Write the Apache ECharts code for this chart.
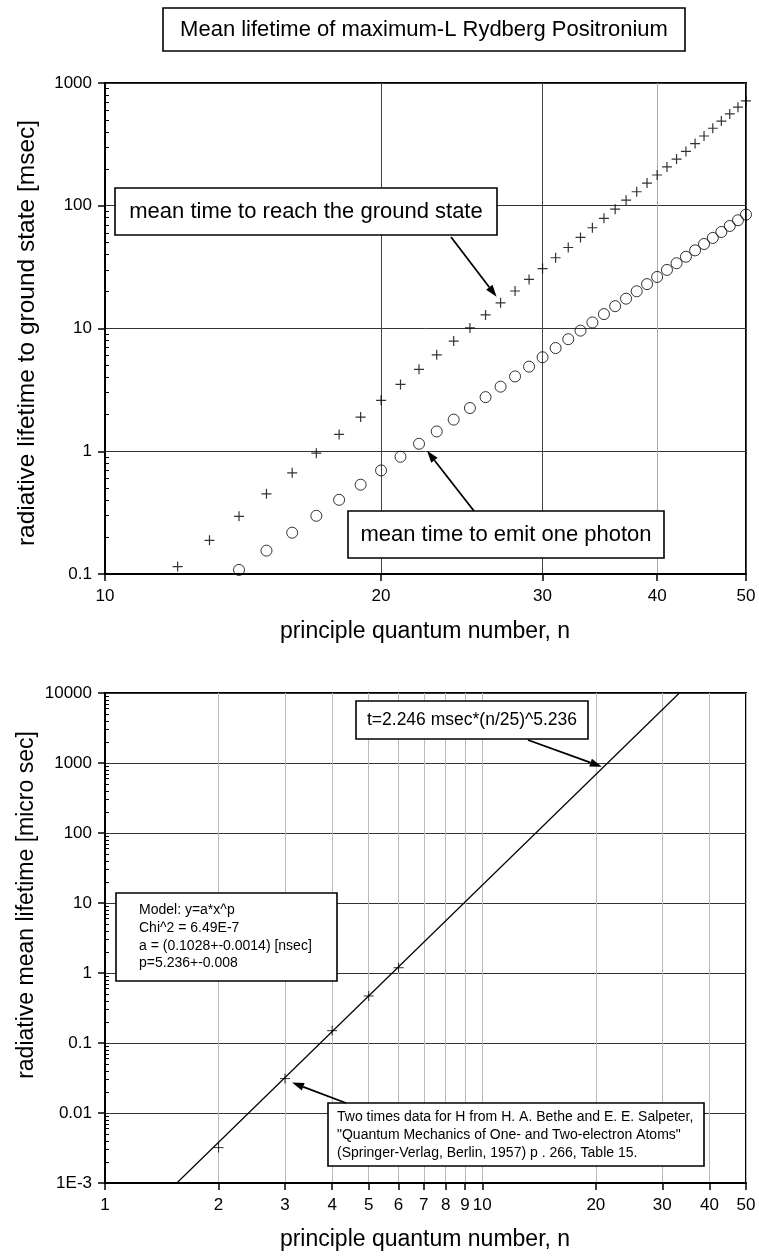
<!DOCTYPE html>
<html>
<head>
<meta charset="utf-8">
<script src="https://cdn.jsdelivr.net/npm/echarts@6/dist/echarts.min.js"></script>
<style>
html, body { margin: 0; padding: 0; background: #fff; }
#chart { width: 759px; height: 1257px; }
</style>
</head>
<body>
<div id="chart"></div>
<script>
// top chart: maximum-L Rydberg positronium, lifetimes in msec
var nCross = [12,13,14,15,16,17,18,19,20,21,22,23,24,25,26,27,28,29,30,31,32,33,34,35,36,37,38,39,40,41,42,43,44,45,46,47,48,49,50];
var tCross = [0.115,0.188,0.295,0.45,0.667,0.965,1.37,1.9,2.6,3.5,4.65,6.1,7.9,10.1,12.9,16.2,20.2,25.1,30.8,37.7,45.7,55.2,66.2,79,93.8,111,130,153,178,207,240,277,321,370,428,490,560,635,715];
var nCircle = [14,15,16,17,18,19,20,21,22,23,24,25,26,27,28,29,30,31,32,33,34,35,36,37,38,39,40,41,42,43,44,45,46,47,48,49,50];
var tCircle = [0.108,0.155,0.217,0.298,0.402,0.534,0.698,0.902,1.15,1.45,1.81,2.25,2.76,3.36,4.07,4.89,5.83,6.93,8.18,9.61,11.2,13.1,15.2,17.5,20.1,23,26.3,30,34,38.4,43.3,48.8,54.7,61.2,68.4,76.2,84.7];

// bottom chart: hydrogen data (x2) and fitted power law, micro sec
var nBethe = [2,3,4,5,6];
var tBethe = [0.0032,0.031,0.15,0.47,1.19];
var nFit = [1.55,33.3];
var tFit = [0.001,10000];

var xTicksTop = [10,20,30,40,50];
var yTicksTop = [0.1,1,10,100,1000];
var yLabelsTop = ['0.1','1','10','100','1000'];
var xTicksBot = [1,2,3,4,5,6,7,8,9,10,20,30,40,50];
var yTicksBot = [0.001,0.01,0.1,1,10,100,1000,10000];
var yLabelsBot = ['1E-3','0.01','0.1','1','10','100','1000','10000'];

var FONT = '"Liberation Sans", Arial, sans-serif';
var CROSS = 'path://M0,5L10,5M5,0L5,10';

function zip(a, b) {
	var out = [];
	for (var i = 0; i < a.length; i++) out.push([a[i], b[i]]);
	return out;
}

function minorTicks(lo, hi) {
	var out = [];
	for (var d = lo; d < hi * 0.99; d *= 10) {
		for (var k = 2; k <= 9; k++) out.push(+(d * k).toPrecision(3));
	}
	return out;
}

function pickLabel(ticks, labels) {
	return function (v) {
		for (var i = 0; i < ticks.length; i++) {
			if (Math.abs(Math.log10(v) - Math.log10(ticks[i])) < 1e-6) return labels[i];
		}
		return '';
	};
}

function xAxisOf(grid, min, max, ticks, gridColor) {
	return {
		gridIndex: grid, type: 'log', logBase: 10, min: min, max: max,
		axisLine: { show: true, lineStyle: { color: '#000', width: 2 } },
		axisTick: { show: true, customValues: ticks, length: 7, lineStyle: { color: '#000', width: 1.5 } },
		axisLabel: { customValues: ticks, margin: 14, fontSize: 17, color: '#000', fontFamily: FONT, hideOverlap: false },
		splitLine: { show: true, lineStyle: { color: gridColor, width: 1 } },
		minorTick: { show: false }, minorSplitLine: { show: false }
	};
}

function yAxisOf(grid, min, max, ticks, labels) {
	return {
		gridIndex: grid, type: 'log', logBase: 10, min: min, max: max, position: 'left', offset: 0,
		axisLine: { show: true, lineStyle: { color: '#000', width: 2 } },
		axisTick: { show: true, customValues: ticks, length: 7, lineStyle: { color: '#000', width: 1.5 } },
		axisLabel: { customValues: ticks, formatter: pickLabel(ticks, labels), margin: 13, fontSize: 17, color: '#000', fontFamily: FONT, hideOverlap: false },
		splitLine: { show: true, lineStyle: { color: '#333', width: 1 } }
	};
}

function yMinorOf(grid, min, max) {
	return {
		gridIndex: grid, type: 'log', logBase: 10, min: min, max: max, position: 'left', offset: 0,
		axisLine: { show: false },
		axisTick: { show: true, inside: true, customValues: minorTicks(min, max), length: 4, lineStyle: { color: '#000', width: 1 } },
		axisLabel: { show: false },
		splitLine: { show: false }
	};
}

var dom = document.getElementById('chart');
var myChart = echarts.init(dom, null, { renderer: 'canvas' });

var option = {
	animation: false,
	backgroundColor: '#fff',
	grid: [
		{ left: 105, top: 83, width: 641, height: 491, show: true, borderColor: '#000', borderWidth: 2, containLabel: false, outerBoundsMode: 'none' },
		{ left: 105, top: 693, width: 641, height: 490, show: true, borderColor: '#000', borderWidth: 2, containLabel: false, outerBoundsMode: 'none' }
	],
	xAxis: [
		xAxisOf(0, 10, 50, xTicksTop, ['#444', '#444', '#444', '#aaa', '#444']),
		xAxisOf(1, 1, 50, xTicksBot, '#bbb')
	],
	yAxis: [
		yAxisOf(0, 0.1, 1000, yTicksTop, yLabelsTop),
		yMinorOf(0, 0.1, 1000),
		yAxisOf(1, 0.001, 10000, yTicksBot, yLabelsBot),
		yMinorOf(1, 0.001, 10000)
	],
	series: [
		{
			name: 'mean time to reach the ground state', type: 'scatter',
			xAxisIndex: 0, yAxisIndex: 0,
			symbol: CROSS, symbolSize: 10,
			itemStyle: { color: 'transparent', borderColor: '#000', borderWidth: 1.2 },
			data: zip(nCross, tCross)
		},
		{
			name: 'mean time to emit one photon', type: 'scatter',
			xAxisIndex: 0, yAxisIndex: 0,
			symbol: 'circle', symbolSize: 11,
			itemStyle: { color: 'transparent', borderColor: '#000', borderWidth: 1 },
			data: zip(nCircle, tCircle)
		},
		{
			name: 'fit', type: 'line',
			xAxisIndex: 1, yAxisIndex: 2,
			showSymbol: false, symbol: 'none',
			lineStyle: { color: '#000', width: 1.2 },
			data: zip(nFit, tFit)
		},
		{
			name: 'Bethe-Salpeter x2', type: 'scatter',
			xAxisIndex: 1, yAxisIndex: 2,
			symbol: CROSS, symbolSize: 10,
			itemStyle: { color: 'transparent', borderColor: '#000', borderWidth: 1 },
			data: zip(nBethe, tBethe)
		}
	]
};

myChart.setOption(option, true);

function px(grid, pt) {
	var yi = grid === 0 ? 0 : 2;
	return myChart.convertToPixel({ xAxisIndex: grid, yAxisIndex: yi }, pt);
}

function arrow(x1, y1, x2, y2) {
	var a = Math.atan2(y2 - y1, x2 - x1), L = 12, W = 4;
	var bx = x2 - L * Math.cos(a), by = y2 - L * Math.sin(a);
	var nx = -Math.sin(a), ny = Math.cos(a);
	return [
		{ type: 'line', silent: true, shape: { x1: x1, y1: y1, x2: bx, y2: by }, style: { stroke: '#000', lineWidth: 1.8 } },
		{ type: 'polygon', silent: true, shape: { points: [[x2, y2], [bx + nx * W, by + ny * W], [bx - nx * W, by - ny * W]] }, style: { fill: '#000' } }
	];
}

function box(x, y, w, h) {
	return { type: 'rect', silent: true, shape: { x: x, y: y, width: w, height: h }, style: { fill: '#fff', stroke: '#000', lineWidth: 1.6 } };
}

function label(txt, x, y, size, align, rot, lh) {
	return {
		type: 'text', silent: true, x: x, y: y, rotation: rot || 0,
		style: {
			text: txt, fontSize: size, fontFamily: FONT, fill: '#000',
			align: align || 'center', textAlign: align || 'center',
			verticalAlign: 'middle', textVerticalAlign: 'middle',
			lineHeight: lh || size * 1.2
		}
	};
}

var tipReach = px(0, [27, tCross[15]]);
var tipEmit = px(0, [22, tCircle[8]]);
var tipFit = px(1, [21, 885]);
var tipBethe = px(1, [3, tBethe[1]]);

var g = [];
g.push(box(163, 8, 522, 43));
g.push(label('Mean lifetime of maximum-L Rydberg Positronium', 424, 30, 22));
g.push(label('radiative lifetime to ground state [msec]', 27, 333, 24.5, 'center', Math.PI / 2));
g.push(label('principle quantum number, n', 425, 632, 23));
g.push(label('radiative mean lifetime [micro sec]', 27, 905, 23, 'center', Math.PI / 2));
g.push(label('principle quantum number, n', 425, 1240, 23));

g.push(box(115, 188, 382, 47));
g.push(label('mean time to reach the ground state', 306, 212, 22));
g = g.concat(arrow(451, 237, tipReach[0] - 4, tipReach[1] - 6));

g.push(box(348, 511, 316, 47));
g.push(label('mean time to emit one photon', 506, 535, 22));
g = g.concat(arrow(474, 511, tipEmit[0] + 8, tipEmit[1] + 7));

g.push(box(356, 701, 232, 38));
g.push(label('t=2.246 msec*(n/25)^5.236', 472, 720, 17.5));
g = g.concat(arrow(528, 740, tipFit[0] - 2, tipFit[1]));

g.push(box(116, 893, 221, 88));
g.push(label('Model: y=a*x^p\nChi^2 = 6.49E-7\na = (0.1028+-0.0014) [nsec]\np=5.236+-0.008', 139, 937, 14, 'left', 0, 17.6));

g.push(box(328, 1103, 376, 63));
g.push(label('Two times data for H from H. A. Bethe and E. E. Salpeter,\n"Quantum Mechanics of One- and Two-electron Atoms"\n(Springer-Verlag, Berlin, 1957) p . 266, Table 15.', 337, 1135, 14, 'left', 0, 17.7));
g = g.concat(arrow(346, 1103, tipBethe[0] + 7, tipBethe[1] + 4));

myChart.setOption({ graphic: { elements: g } });
</script>
</body>
</html>
